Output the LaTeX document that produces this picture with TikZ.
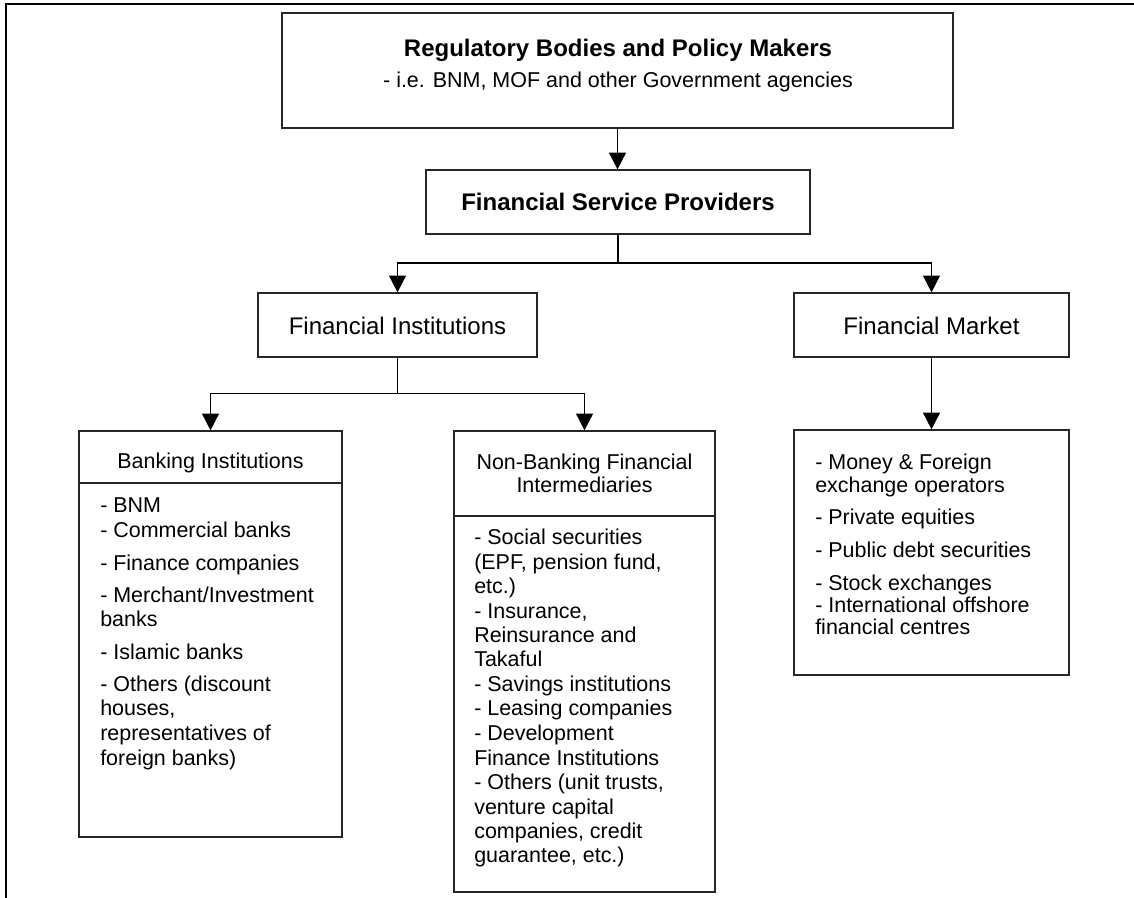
\documentclass[tikz,border=0pt]{standalone}
\usepackage{fontspec}
\setmainfont{Liberation Sans}
\usetikzlibrary{arrows.meta,fit}
\begin{document}
\begin{tikzpicture}[x=0.75pt,y=-0.75pt,
  box/.style={draw=black!85,line width=0.9pt,inner sep=0pt},
  rule/.style={draw=black!85,line width=0.9pt},
  wire/.style={draw=black,line width=1.3pt},
  arr/.style={wire,-{Triangle[width=12.5pt,length=12.5pt]}},
  headbold/.style={font=\fontsize{18}{21}\selectfont\bfseries,inner sep=0pt,text height=12.9pt,text depth=0pt},
  head/.style={font=\fontsize{18}{21}\selectfont,inner sep=0pt,text height=12.9pt,text depth=0pt},
  sub/.style={font=\fontsize{16.1}{19}\selectfont,inner sep=0pt,text height=11.5pt,text depth=0pt},
  item/.style={sub,anchor=west}]
\useasboundingbox (0,0) rectangle (1134,898);

% page frame
\draw[line width=1.5pt] (6,898) -- (6,4.5) -- (1134,4.5);

% boxes
\node[box,fit={(282,13) (953,128)}] (reg) {};
\node[box,fit={(426,170) (810,234)}] (fsp) {};
\node[box,fit={(258,293) (537,357)}] (fi) {};
\node[box,fit={(794,293) (1069,357)}] (fm) {};
\node[box,fit={(79,431) (342,837)}] (bank) {};
\node[box,fit={(454,431) (715,892)}] (nbfi) {};
\node[box,fit={(794,430) (1069,675)}] (fml) {};

% title dividers in the two lower boxes
\draw[rule] (79,483) -- (342,483);
\draw[rule] (454,516) -- (715,516);

% headings
\node[headbold] (regT) at (618,48) {Regulatory Bodies and Policy Makers};
\node[sub] (regS) at (618,80) {- i.e. BNM, MOF and other Government agencies};
\node[headbold] (fspT) at (618,202) {Financial Service Providers};
\node[head] (fiT) at (397.5,326) {Financial Institutions};
\node[head] (fmT) at (931.5,326) {Financial Market};
\node[sub] (bankT) at (210.5,461) {Banking Institutions};
\node[sub] (nbfiT1) at (584.5,462) {Non-Banking Financial};
\node[sub] (nbfiT2) at (584.5,485) {Intermediaries};

% item lists
\foreach \yy/\txt [count=\k] in {505/{- BNM},530/{- Commercial banks},563/{- Finance companies},
    595/{- Merchant/Investment},619/{banks},652/{- Islamic banks},684/{- Others (discount},
    708/{houses,},733/{representatives of},758/{foreign banks)}}
  \node[item] (bi\k) at (100,\yy) {\txt};

\foreach \yy/\txt [count=\k] in {537/{- Social securities},562/{(EPF, pension fund,},586/{etc.)},
    611/{- Insurance,},635/{Reinsurance and},659/{Takaful},684/{- Savings institutions},
    708/{- Leasing companies},733/{- Development},758/{Finance Institutions},
    782/{- Others (unit trusts,},807/{venture capital},831/{companies, credit},855/{guarantee, etc.)}}
  \node[item] (ni\k) at (474,\yy) {\txt};

\foreach \yy/\txt [count=\k] in {462/{- Money \& Foreign},485/{exchange operators},517/{- Private equities},
    550/{- Public debt securities},583/{- Stock exchanges},605/{- International offshore},627/{financial centres}}
  \node[item] (mi\k) at (815,\yy) {\txt};

% connectors
\coordinate (j1) at (618,263);
\path (fi.south) ++(0,36) coordinate (j2);
\draw[arr] (reg.south) -- (reg.south |- fsp.north);
\draw[wire] (fsp.south) -- (j1);
\draw[arr] (j1) -| (fi.north);
\draw[arr] (j1) -| (fm.north);
\draw[wire] (fi.south) -- (j2);
\draw[arr] (j2) -| (bank.north);
\draw[arr] (j2) -| (nbfi.north);
\draw[arr] (fm.south) -- (fml.north);
\end{tikzpicture}
\end{document}
